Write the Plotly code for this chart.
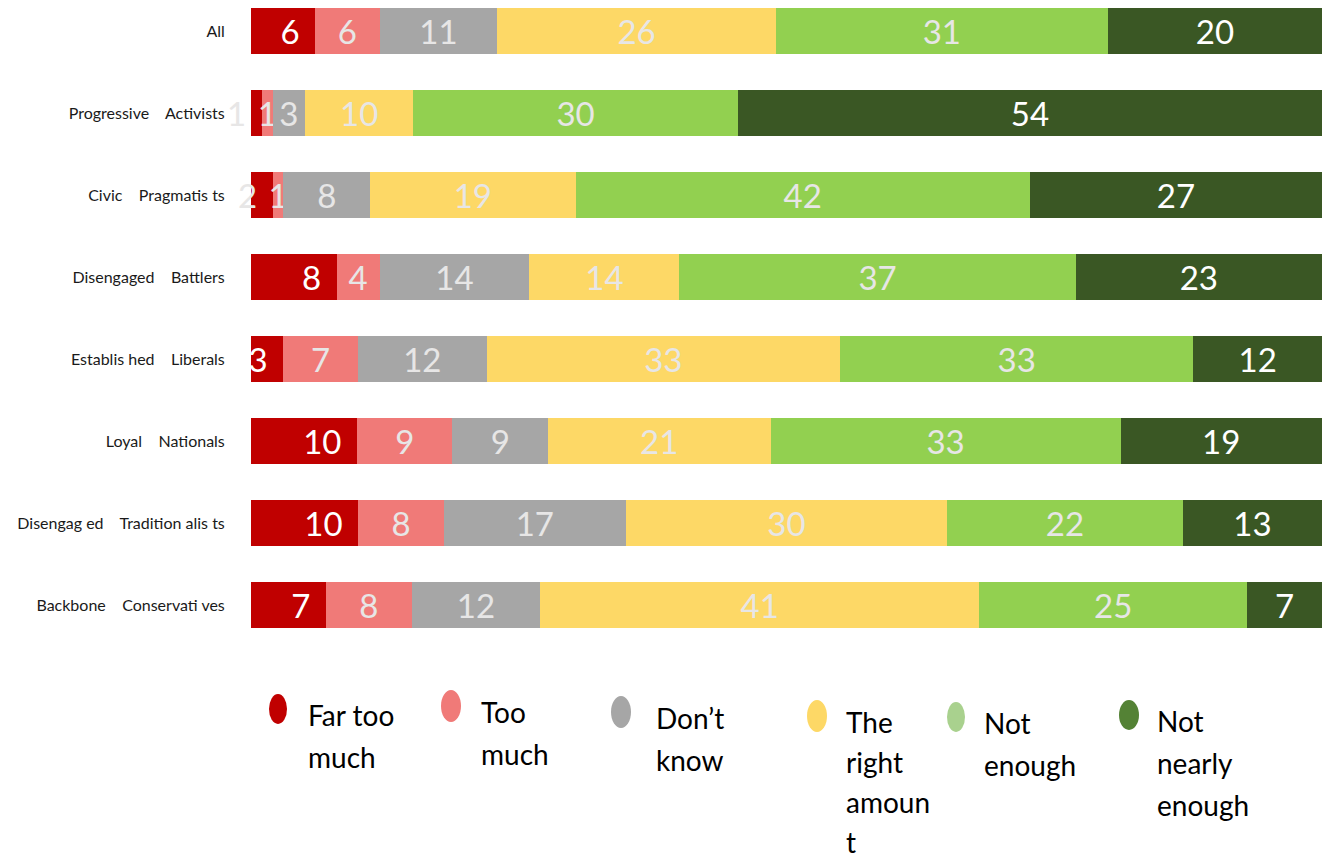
import plotly.graph_objects as go

# Segment labels, top row first
groups = [
    "All",
    "Progressive\u00a0\u00a0\u00a0 Activists",
    "Civic\u00a0\u00a0\u00a0 Pragmatis ts",
    "Disengaged\u00a0\u00a0\u00a0 Battlers",
    "Establis hed\u00a0\u00a0\u00a0 Liberals",
    "Loyal\u00a0\u00a0\u00a0 Nationals",
    "Disengag ed\u00a0\u00a0\u00a0 Tradition alis ts",
    "Backbone\u00a0\u00a0\u00a0 Conservati ves",
]

# Percentages for each answer option
far_too_much = [6, 1, 2, 8, 3, 10, 10, 7]
too_much = [6, 1, 1, 4, 7, 9, 8, 8]
dont_know = [11, 3, 8, 14, 12, 9, 17, 12]
right_amount = [26, 10, 19, 14, 33, 21, 30, 41]
not_enough = [31, 30, 42, 37, 33, 33, 22, 25]
not_nearly_enough = [20, 54, 27, 23, 12, 19, 13, 7]

series_names = ["Far too much", "Too much", "Don\u2019t know",
                "The right amount", "Not enough", "Not nearly enough"]
series_values = [far_too_much, too_much, dont_know,
                 right_amount, not_enough, not_nearly_enough]
bar_colors = ["#C00000", "#F07A78", "#A6A6A6", "#FDD866", "#92D050", "#3A5724"]
legend_colors = ["#C00000", "#F07A78", "#A6A6A6", "#FDD866", "#A9D18E", "#548235"]
legend_lines = [["Far too", "much"], ["Too", "much"], ["Don\u2019t", "know"],
                ["The", "right", "amoun", "t"], ["Not", "enough"],
                ["Not", "nearly", "enough"]]

LIGHT = "#E7E6E6"
FONT = "Lato, 'Open Sans', sans-serif"

# plot-area geometry in page pixels
W, H = 1329, 858
L, R, T, B = 251, 7, 0, 212
PW, PH = W - L - R, H - T - B


def to_px(px):
    return (px - L) / PW


def to_py(py):
    return 1 - (py - T) / PH


fig = go.Figure()
for i, (name, vals, col) in enumerate(zip(series_names, series_values, bar_colors)):
    if i == 0:
        text = [f"{v}\u00a0\u2009" for v in vals]
        tcolors = [LIGHT if k in (1, 2) else "white" for k in range(len(vals))]
        anchor = "end"
    else:
        text = [str(v) for v in vals]
        tcolors = ["white" if i == 5 else LIGHT] * len(vals)
        anchor = "middle"
    fig.add_trace(go.Bar(
        y=groups, x=vals, orientation="h", name=name,
        marker=dict(color=col, line=dict(width=0)),
        text=text, textposition="inside", insidetextanchor=anchor,
        textangle=0, constraintext="none", cliponaxis=False,
        textfont=dict(family=FONT, size=33, color=tcolors),
        showlegend=False,
        hovertemplate="%{y}: %{x}<extra>" + name + "</extra>",
    ))

# legend drawn below the plot: ellipses with stacked word lines
ell_boxes = [(269, 287, 694, 724), (441, 461, 690, 722), (611, 631, 696, 728),
             (807, 827, 700, 732), (947, 965, 702, 732), (1119, 1139, 700, 730)]
text_x = [306, 479, 654, 844, 982, 1155]
first_base = [725, 722, 728, 732, 733, 731]
line_gap = [42, 42, 42, 40, 42, 42]
LEG_SIZE = 28

shapes = []
annotations = []
for col, (x0, x1, y0, y1), tx, b0, gap, lines in zip(
        legend_colors, ell_boxes, text_x, first_base, line_gap, legend_lines):
    shapes.append(dict(type="circle", xref="paper", yref="paper",
                       x0=to_px(x0), x1=to_px(x1), y0=to_py(y1), y1=to_py(y0),
                       fillcolor=col, line=dict(width=0)))
    for j, line in enumerate(lines):
        base = b0 + j * gap
        annotations.append(dict(
            text=line, xref="paper", yref="paper",
            x=to_px(tx), y=to_py(base - 0.36 * LEG_SIZE),
            xanchor="left", yanchor="middle", showarrow=False,
            font=dict(family=FONT, size=LEG_SIZE, color="black"),
        ))

fig.update_layout(
    barmode="stack", barnorm="percent", bargap=0.44,
    width=W, height=H,
    margin=dict(l=L, r=R, t=T, b=B, pad=0),
    paper_bgcolor="white", plot_bgcolor="white",
    shapes=shapes, annotations=annotations,
    showlegend=False,
    xaxis=dict(range=[0, 100], visible=False, fixedrange=True),
    yaxis=dict(
        categoryorder="array", categoryarray=groups,
        range=[7.5, -0.378], showgrid=False, zeroline=False, showline=False,
        ticks="outside", ticklen=22, tickcolor="rgba(0,0,0,0)",
        tickfont=dict(family=FONT, size=16, color="#1a1a1a"),
        fixedrange=True,
    ),
)

fig.write_html("out.html")
